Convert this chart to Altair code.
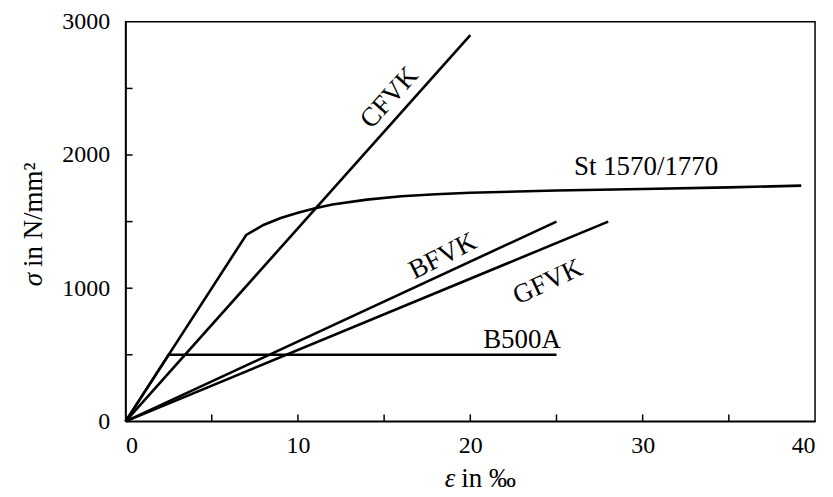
import altair as alt
import pandas as pd

# ---- data ----
cfvk_x = [0, 20]
cfvk_y = [0, 2900]
st_x = [0, 7, 8, 9, 10, 11, 12, 14, 16, 18, 20, 25, 30, 35, 39.2]
st_y = [0, 1400, 1475, 1527, 1567, 1600, 1628, 1665, 1690, 1705, 1717, 1733, 1745, 1757, 1770]
bfvk_x = [0, 25]
bfvk_y = [0, 1500]
gfvk_x = [0, 28]
gfvk_y = [0, 1500]
b500_x = [0, 2.5, 25]
b500_y = [0, 500, 500]

label_text = ["CFVK", "St 1570/1770", "BFVK", "GFVK", "B500A"]
label_x = [15.3, 30.2, 18.4, 24.5, 23.0]
label_y = [2430, 1907, 1240, 1047, 613]
label_angle = [312, 0, 333, 335, 0]

x_ticks_labels = [0, 10, 20, 30, 40]
y_ticks_labels = [0, 1000, 2000, 3000]
x_minor = [5, 10, 15, 20, 25, 30, 35]
y_minor = [500, 1000, 1500, 2000, 2500]

x_title_sym, x_title_rest = "ε", "in ‰"
y_title_sym, y_title_rest = "σ", "in N/mm²"

FONT = "Liberation Serif"
W, H = 692, 401

rows = []
for name, xs, ys in [("CFVK", cfvk_x, cfvk_y), ("St", st_x, st_y), ("BFVK", bfvk_x, bfvk_y),
                     ("GFVK", gfvk_x, gfvk_y), ("B500A", b500_x, b500_y)]:
    for i, (a, b) in enumerate(zip(xs, ys)):
        rows.append({"series": name, "i": i, "eps": a, "sig": b})
lines_df = pd.DataFrame(rows)
labels_df = pd.DataFrame({"text": label_text, "eps": label_x, "sig": label_y, "angle": label_angle})

xscale = alt.Scale(domain=[0, 40], nice=False, zero=False)
yscale = alt.Scale(domain=[0, 3000], nice=False, zero=False)

common_axis = dict(ticks=False, grid=False, labelFontSize=24, labelFont=FONT,
                   labelColor="black", domainColor="black", domainWidth=1.5, title=None)
xaxis = alt.Axis(values=x_ticks_labels, labelPadding=12, format="d", **common_axis)
yaxis = alt.Axis(values=y_ticks_labels, labelPadding=16, format="d", **common_axis)

lines = alt.Chart(lines_df).mark_line(strokeWidth=2.6, color="black").encode(
    x=alt.X("eps:Q", scale=xscale, axis=xaxis),
    y=alt.Y("sig:Q", scale=yscale, axis=yaxis),
    detail="series:N",
    order="i:Q",
)

labels = alt.Chart(labels_df).mark_text(font=FONT, fontSize=27, color="black",
                                        align="center", baseline="middle").encode(
    x=alt.X("eps:Q", scale=xscale),
    y=alt.Y("sig:Q", scale=yscale),
    text="text:N",
    angle=alt.Angle("angle:Q", scale=None),
)

ytick = alt.Chart(pd.DataFrame({"v": y_minor})).mark_rule(color="black", strokeWidth=1.5).encode(
    y=alt.Y("v:Q", scale=yscale), x=alt.value(0), x2=alt.value(7))
xtick = alt.Chart(pd.DataFrame({"v": x_minor})).mark_rule(color="black", strokeWidth=1.5).encode(
    x=alt.X("v:Q", scale=xscale), y=alt.value(H), y2=alt.value(H - 7))

# axis titles (italic symbol + upright rest)
title_src = alt.Chart(pd.DataFrame({"a": [0]}))
xt1 = title_src.mark_text(font=FONT, fontSize=27, fontStyle="italic", color="black",
                          align="right", baseline="alphabetic").encode(
    x=alt.value(331), y=alt.value(467), text=alt.value(x_title_sym))
xt2 = title_src.mark_text(font=FONT, fontSize=27, color="black", dx=6,
                          align="left", baseline="alphabetic").encode(
    x=alt.value(331), y=alt.value(467), text=alt.value(x_title_rest))
yt1 = title_src.mark_text(font=FONT, fontSize=27, fontStyle="italic", color="black",
                          align="right", baseline="alphabetic", angle=270).encode(
    x=alt.value(-84), y=alt.value(252), text=alt.value(y_title_sym))
yt2 = title_src.mark_text(font=FONT, fontSize=27, color="black", dx=6,
                          align="left", baseline="alphabetic", angle=270).encode(
    x=alt.value(-84), y=alt.value(252), text=alt.value(y_title_rest))

chart = alt.layer(ytick, xtick, lines, labels, xt1, xt2, yt1, yt2).properties(
    width=W, height=H,
    autosize=alt.AutoSizeParams(type="none"),
    padding={"left": 118, "top": 13, "right": 10, "bottom": 70},
    background="white",
).configure_view(stroke="black", strokeWidth=1.5)

chart.save("out.html", embed_options={"renderer": "svg", "actions": False})
